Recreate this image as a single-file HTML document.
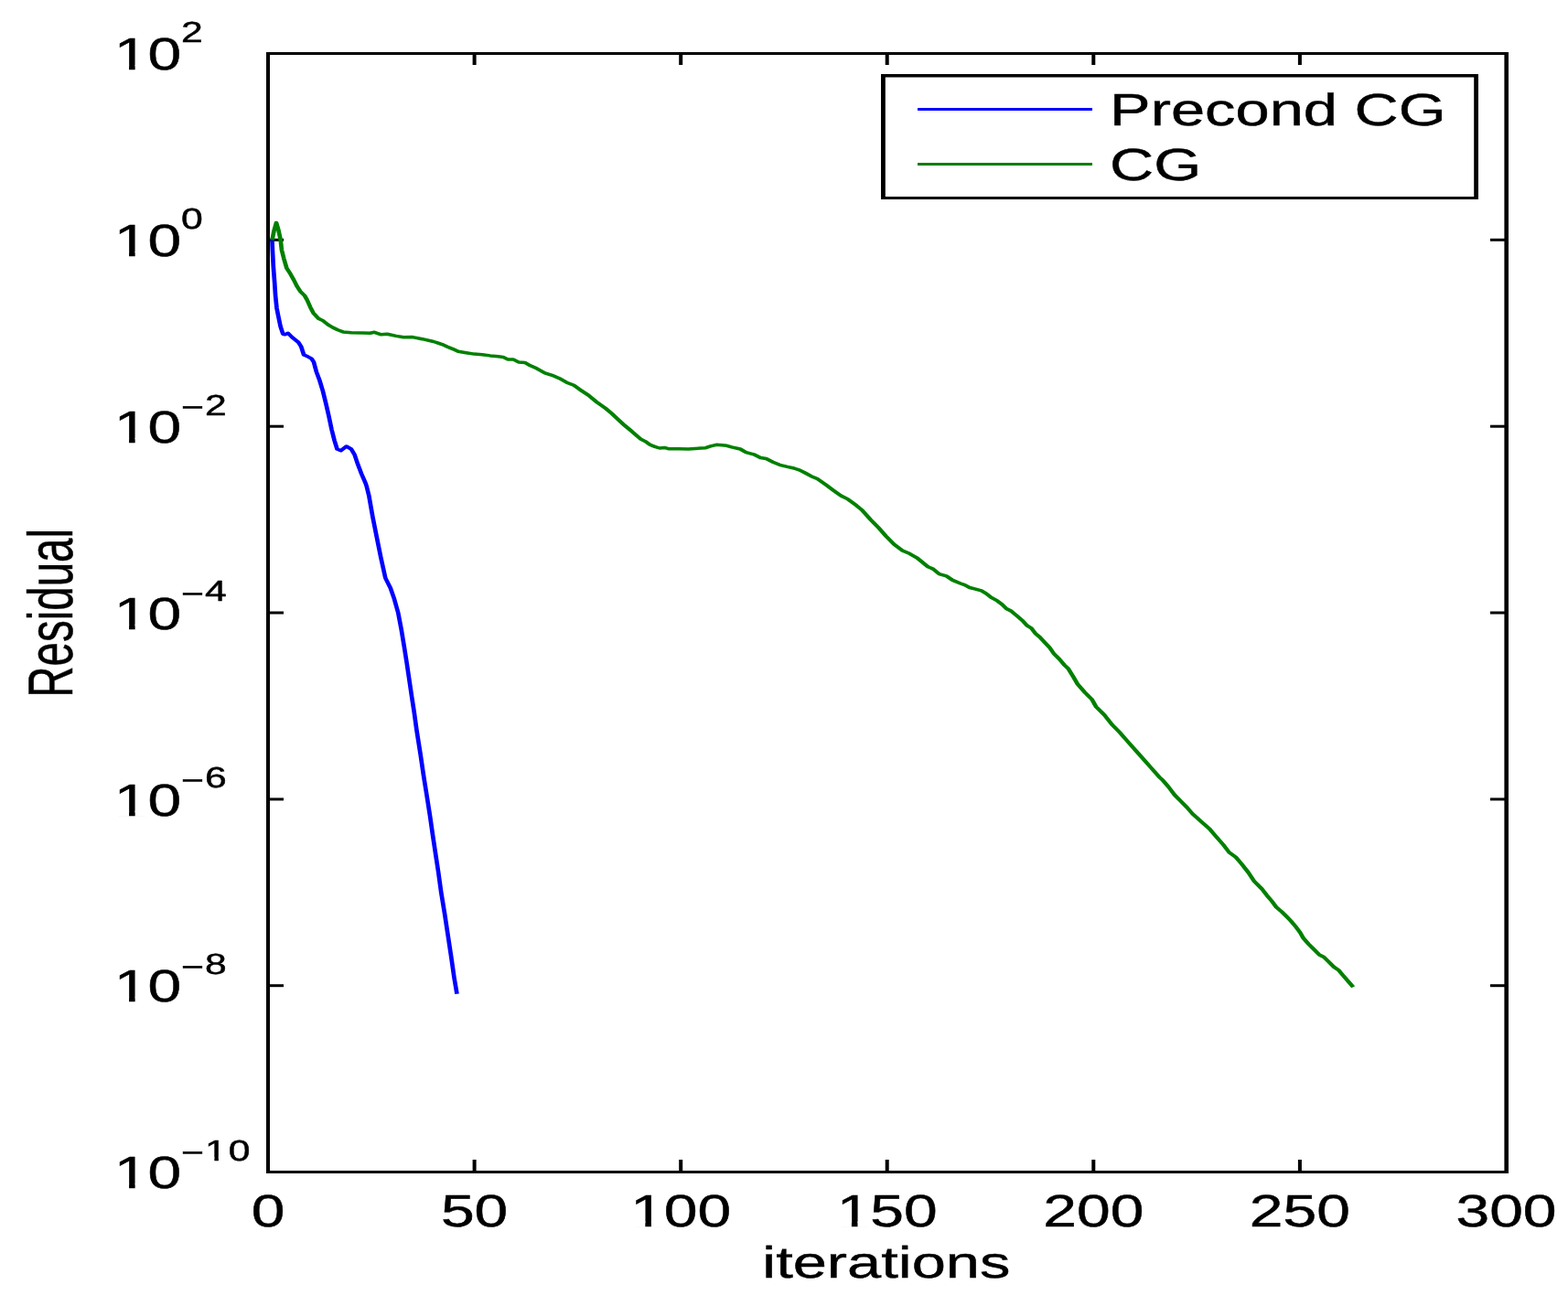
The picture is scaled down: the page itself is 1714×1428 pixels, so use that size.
<!DOCTYPE html>
<html><head><meta charset="utf-8"><title>Residual vs iterations</title>
<style>html,body{margin:0;padding:0;background:#fff;overflow:hidden}svg{display:block}text{font-family:"Liberation Sans", Arial, Helvetica, sans-serif;fill:#000;stroke:#000;stroke-width:0.45px;text-rendering:geometricPrecision}</style></head><body>
<svg width="1714" height="1428" viewBox="0 0 1714 1428">
<rect x="0" y="0" width="1714" height="1428" fill="#fff"/>
<g fill="#000">
<rect x="291.0" y="57.0" width="1358.0" height="3"/>
<rect x="291.0" y="1280.0" width="1358.0" height="3"/>
<rect x="291.0" y="57.0" width="4" height="1226.0"/>
<rect x="1644.4" y="57.0" width="4.6" height="1226.0"/>
<rect x="516.6" y="57.0" width="4" height="14"/>
<rect x="516.6" y="1268.0" width="4" height="15"/>
<rect x="742.2" y="57.0" width="4" height="14"/>
<rect x="742.2" y="1268.0" width="4" height="15"/>
<rect x="967.7" y="57.0" width="4" height="14"/>
<rect x="967.7" y="1268.0" width="4" height="15"/>
<rect x="1193.3" y="57.0" width="4" height="14"/>
<rect x="1193.3" y="1268.0" width="4" height="15"/>
<rect x="1418.9" y="57.0" width="4" height="14"/>
<rect x="1418.9" y="1268.0" width="4" height="15"/>
<rect x="291.0" y="260.8" width="19" height="3"/>
<rect x="1629.0" y="260.8" width="20" height="3"/>
<rect x="291.0" y="464.7" width="19" height="3"/>
<rect x="1629.0" y="464.7" width="20" height="3"/>
<rect x="291.0" y="668.5" width="19" height="3"/>
<rect x="1629.0" y="668.5" width="20" height="3"/>
<rect x="291.0" y="872.4" width="19" height="3"/>
<rect x="1629.0" y="872.4" width="20" height="3"/>
<rect x="291.0" y="1076.2" width="19" height="3"/>
<rect x="1629.0" y="1076.2" width="20" height="3"/>
</g>
<g transform="scale(1.34,1)" fill="none" stroke-width="3.5" stroke-linejoin="round" stroke-linecap="butt">
<polyline points="222.01,262.7 222.31,273.2 222.99,291.4 224.03,309.6 224.70,323.3 225.75,337.0 227.09,346.1 228.81,357.0 230.82,365.2 232.54,365.7 234.93,364.3 238.28,368.8 241.72,372.5 243.43,374.3 245.67,379.0 247.84,388.0 250.97,389.8 254.10,392.1 255.90,395.7 258.06,406.4 260.75,416.0 263.43,427.9 266.04,442.1 268.28,455.2 270.52,469.5 272.76,481.4 275.00,491.0 278.06,492.7 282.54,488.0 286.49,491.0 289.18,496.9 291.87,507.6 294.93,518.3 298.06,527.9 298.96,531.2 301.04,542.4 303.96,564.8 307.31,587.2 310.67,609.6 314.40,632.0 318.58,643.2 321.49,654.4 324.78,670.0 327.39,688.2 329.63,706.4 331.79,724.6 333.81,742.9 335.82,761.1 337.91,779.3 339.78,797.5 342.99,824.8 345.45,847.2 348.13,869.6 350.75,892.0 353.13,914.3 355.67,936.7 357.54,953.1 359.93,976.2 362.76,999.3 365.37,1022.4 367.99,1045.5 370.45,1068.6 372.76,1086.8" stroke="#0000ff"/>
<polyline points="222.01,262.5 223.51,252.4 225.37,243.5 227.24,252.0 228.88,262.3 229.78,273.2 231.49,282.3 233.88,293.3 236.94,299.6 239.63,306.0 242.39,313.3 245.07,318.8 248.51,323.3 250.52,328.0 253.13,335.8 255.60,342.2 259.78,348.2 263.43,350.6 267.69,355.1 271.34,358.0 275.60,360.8 279.85,362.9 286.57,363.7 295.75,364.1 301.79,364.3 305.45,363.3 310.97,365.8 315.82,365.3 323.13,367.4 329.25,368.8 336.57,368.6 344.48,370.7 353.66,373.5 356.34,374.6 360.67,376.6 365.07,379.3 369.40,381.6 373.73,384.2 380.30,385.7 386.79,387.1 393.36,387.7 399.85,388.9 406.42,389.8 410.37,390.4 414.10,392.9 418.51,392.9 422.99,395.9 428.13,396.4 432.61,399.8 437.76,402.8 444.48,407.8 450.37,410.3 456.27,413.7 462.24,418.2 468.13,421.2 472.61,425.6 480.00,432.1 486.64,439.5 494.03,446.5 499.25,452.4 504.40,458.9 509.63,465.3 515.52,471.8 522.69,480.1 526.34,482.6 530.22,486.3 534.18,488.4 538.06,490.0 542.01,489.4 545.90,490.8 553.73,490.8 561.57,491.0 567.09,490.5 575.67,489.7 579.63,487.9 584.33,486.3 589.03,486.8 592.91,487.3 596.87,488.9 603.88,491.0 608.58,494.7 614.85,496.8 620.37,500.5 625.07,501.5 630.52,505.2 636.04,508.3 642.31,510.4 647.76,512.0 652.46,514.1 656.72,517.0 661.72,520.7 666.72,523.5 673.43,529.7 680.15,536.4 685.97,542.0 691.79,545.9 698.51,552.6 703.51,558.2 710.22,568.3 716.87,577.3 722.76,586.2 729.40,595.2 736.12,601.9 741.94,605.3 747.84,609.8 757.01,619.8 761.19,622.1 766.19,627.7 772.09,629.9 777.09,634.4 783.58,638.0 787.01,639.6 791.04,642.5 795.82,644.1 800.60,645.9 804.63,649.1 808.06,652.8 813.51,656.9 817.54,661.0 820.97,665.5 825.07,668.3 829.78,673.7 834.55,679.2 837.99,684.2 841.34,686.9 844.78,692.8 848.13,696.5 851.57,701.5 856.34,708.3 859.70,714.7 864.48,721.1 868.51,727.5 871.49,731.2 875.67,740.2 879.03,748.0 884.93,757.0 890.75,764.8 894.10,772.7 900.82,781.6 907.46,792.8 913.36,800.7 919.18,809.6 925.90,819.7 932.54,829.8 939.25,839.9 945.97,850.0 948.58,853.2 953.28,860.5 957.99,868.9 963.43,876.3 968.13,882.6 972.84,889.9 979.93,898.3 986.94,906.7 991.64,914.1 997.91,923.6 1002.69,932.0 1008.13,937.2 1012.84,944.6 1018.36,954.0 1023.06,963.5 1029.33,971.9 1033.58,979.2 1037.39,985.1 1041.12,991.8 1045.52,996.9 1049.33,1001.9 1053.06,1007.0 1056.79,1012.9 1060.60,1019.6 1063.06,1025.5 1067.46,1032.2 1072.46,1038.9 1076.27,1044.0 1080.00,1046.5 1083.81,1051.5 1088.21,1057.4 1091.94,1060.8 1095.67,1066.6 1099.48,1072.5 1103.88,1079.2" stroke="#008000"/>
</g>
<text transform="translate(293.0,1340.5) scale(1.336,1)" font-size="49.4" text-anchor="middle">0</text>
<text transform="translate(518.6,1340.5) scale(1.336,1)" font-size="49.4" text-anchor="middle">50</text>
<text transform="translate(744.2,1340.5) scale(1.336,1)" font-size="49.4" text-anchor="middle">100</text>
<text transform="translate(969.7,1340.5) scale(1.336,1)" font-size="49.4" text-anchor="middle">150</text>
<text transform="translate(1195.3,1340.5) scale(1.336,1)" font-size="49.4" text-anchor="middle">200</text>
<text transform="translate(1420.9,1340.5) scale(1.336,1)" font-size="49.4" text-anchor="middle">250</text>
<text transform="translate(1646.5,1340.5) scale(1.336,1)" font-size="49.4" text-anchor="middle">300</text>
<text transform="translate(124.8,76.1) scale(1.336,1)" font-size="49.4">10</text>
<text transform="translate(197.9,45.9) scale(1.334,1)" font-size="32.0">2</text>
<text transform="translate(124.8,279.9) scale(1.336,1)" font-size="49.4">10</text>
<text transform="translate(197.9,249.7) scale(1.334,1)" font-size="32.0">0</text>
<text transform="translate(124.8,483.8) scale(1.336,1)" font-size="49.4">10</text>
<text transform="translate(197.9,456.1) scale(1.334,1)" font-size="32.0">&#8722;</text>
<text transform="translate(224.0,453.6) scale(1.334,1)" font-size="32.0">2</text>
<text transform="translate(124.8,687.6) scale(1.336,1)" font-size="49.4">10</text>
<text transform="translate(197.9,659.9) scale(1.334,1)" font-size="32.0">&#8722;</text>
<text transform="translate(224.0,657.4) scale(1.334,1)" font-size="32.0">4</text>
<text transform="translate(124.8,891.5) scale(1.336,1)" font-size="49.4">10</text>
<text transform="translate(197.9,863.8) scale(1.334,1)" font-size="32.0">&#8722;</text>
<text transform="translate(224.0,861.3) scale(1.334,1)" font-size="32.0">6</text>
<text transform="translate(124.8,1095.3) scale(1.336,1)" font-size="49.4">10</text>
<text transform="translate(197.9,1067.6) scale(1.334,1)" font-size="32.0">&#8722;</text>
<text transform="translate(224.0,1065.1) scale(1.334,1)" font-size="32.0">8</text>
<text transform="translate(124.8,1299.1) scale(1.336,1)" font-size="49.4">10</text>
<text transform="translate(197.9,1271.4) scale(1.334,1)" font-size="32.0">&#8722;</text>
<text transform="translate(224.0,1268.9) scale(1.334,1)" font-size="32.0">1<tspan dx="1.5">0</tspan></text>
<g fill="#fff">
<rect x="692.49" y="1335.58" width="12.84" height="6.35"/>
<rect x="711.91" y="1335.58" width="12.32" height="6.35"/>
<rect x="918.07" y="1335.58" width="12.84" height="6.35"/>
<rect x="937.49" y="1335.58" width="12.32" height="6.35"/>
<rect x="128.22" y="71.18" width="12.84" height="6.35"/>
<rect x="147.64" y="71.18" width="12.32" height="6.35"/>
<rect x="128.22" y="275.02" width="12.84" height="6.35"/>
<rect x="147.64" y="275.02" width="12.32" height="6.35"/>
<rect x="128.22" y="478.86" width="12.84" height="6.35"/>
<rect x="147.64" y="478.86" width="12.32" height="6.35"/>
<rect x="128.22" y="682.70" width="12.84" height="6.35"/>
<rect x="147.64" y="682.70" width="12.32" height="6.35"/>
<rect x="128.22" y="886.54" width="12.84" height="6.35"/>
<rect x="147.64" y="886.54" width="12.32" height="6.35"/>
<rect x="128.22" y="1090.38" width="12.84" height="6.35"/>
<rect x="147.64" y="1090.38" width="12.32" height="6.35"/>
<rect x="128.22" y="1294.22" width="12.84" height="6.35"/>
<rect x="147.64" y="1294.22" width="12.32" height="6.35"/>
<rect x="225.61" y="1265.32" width="8.75" height="5.05"/>
<rect x="238.88" y="1265.32" width="8.42" height="5.05"/>
</g>
<text transform="translate(968.8,1397.4) scale(1.377,1)" font-size="48.5" text-anchor="middle">iterations</text>
<text transform="translate(79.1,762.7) rotate(-90) scale(0.688,1)" font-size="69">Residual</text>
<rect x="965.5" y="82.5" width="648" height="134" fill="#fff" stroke="none"/>
<g fill="#000">
<rect x="963" y="81" width="653" height="3.5"/>
<rect x="963" y="215" width="653" height="3"/>
<rect x="963" y="81" width="4.8" height="137"/>
<rect x="1611.2" y="81" width="4.8" height="137"/>
</g>
<rect x="1003" y="118" width="191" height="3" fill="#0000ff"/>
<rect x="1003" y="178" width="191" height="3" fill="#008000"/>
<text transform="translate(1213.1,136.9) scale(1.350,1)" font-size="49.5">Precond CG</text>
<text transform="translate(1213.1,197.0) scale(1.350,1)" font-size="49.5">CG</text>
</svg>
</body></html>
